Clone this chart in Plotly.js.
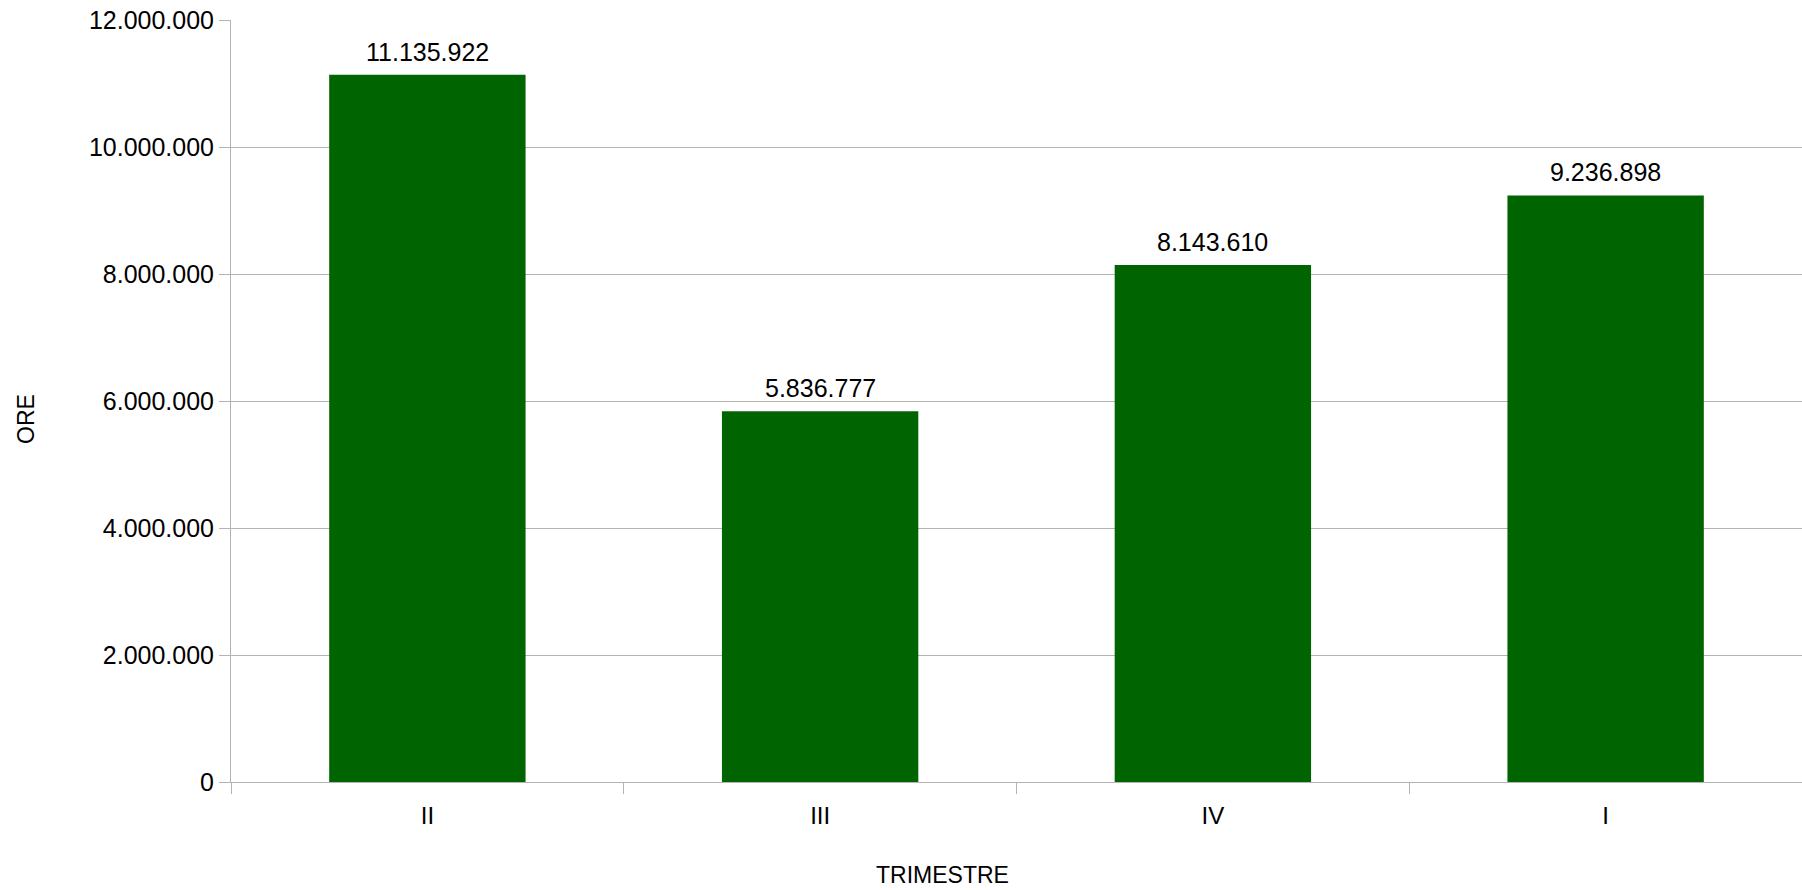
<!DOCTYPE html>
<html>
<head>
<meta charset="utf-8">
<script src="https://cdn.plot.ly/plotly-3.0.1.min.js"></script>
<style>html,body{margin:0;padding:0;background:#fff;}#chart{width:1802px;height:890px;}</style>
</head>
<body>
<div id="chart"></div>
<script>
const categories = ["II", "III", "IV", "I"];
const oreValues = [11135922, 5836777, 8143610, 9236898];
const yTickValues = [0, 2000000, 4000000, 6000000, 8000000, 10000000, 12000000];
const xAxisTitle = "TRIMESTRE";
const yAxisTitle = "ORE";

const FONT = "Liberation Sans, Arial, sans-serif";
const GRID = "#b3b3b3";

const trace = {
  type: "bar",
  x: categories,
  y: oreValues,
  marker: { color: "#006400", line: { width: 0 } },
  hoverinfo: "skip"
};

const fmt = v => v.toString().replace(/\B(?=(\d{3})+(?!\d))/g, ".");

const valueLabels = categories.map((c, i) => ({
  text: fmt(oreValues[i]),
  x: c, y: oreValues[i],
  xref: "x", yref: "y",
  xanchor: "center", yanchor: "bottom",
  yshift: 7,
  showarrow: false,
  font: { family: FONT, size: 25, color: "#000000" }
}));

const layout = {
  width: 1802,
  height: 890,
  margin: { l: 231, r: 0, t: 20, b: 108, autoexpand: false },
  paper_bgcolor: "#ffffff",
  plot_bgcolor: "#ffffff",
  separators: ",.",
  showlegend: false,
  bargap: 0.5,
  font: { family: FONT, color: "#000000" },
  xaxis: {
    type: "category",
    showline: true,
    linecolor: GRID,
    linewidth: 1,
    ticks: "outside",
    tickson: "boundaries",
    ticklen: 11,
    tickcolor: GRID,
    ticklabelstandoff: 12,
    tickfont: { family: FONT, size: 24, color: "#000000" },
    showgrid: false,
    zeroline: false,
    automargin: false
  },
  yaxis: {
    range: [0, 12000000],
    tickmode: "array",
    tickvals: yTickValues,
    tickformat: ",d",
    showline: true,
    linecolor: GRID,
    linewidth: 1,
    ticks: "outside",
    ticklen: 11,
    tickcolor: GRID,
    showgrid: true,
    gridcolor: GRID,
    gridwidth: 1,
    zeroline: false,
    tickfont: { family: FONT, size: 25, color: "#000000" },
    automargin: false
  },
  annotations: valueLabels.concat([
    {
      text: xAxisTitle,
      xref: "paper", yref: "paper",
      x: 0.4532, y: -0.122,
      xanchor: "center", yanchor: "middle",
      showarrow: false,
      font: { family: FONT, size: 23, color: "#000000" }
    },
    {
      text: yAxisTitle,
      xref: "paper", yref: "paper",
      x: -0.1309, y: 0.477,
      xanchor: "center", yanchor: "middle",
      textangle: -90,
      showarrow: false,
      font: { family: FONT, size: 23, color: "#000000" }
    }
  ])
};

Plotly.newPlot("chart", [trace], layout, { displayModeBar: false, staticPlot: true });
</script>
</body>
</html>
